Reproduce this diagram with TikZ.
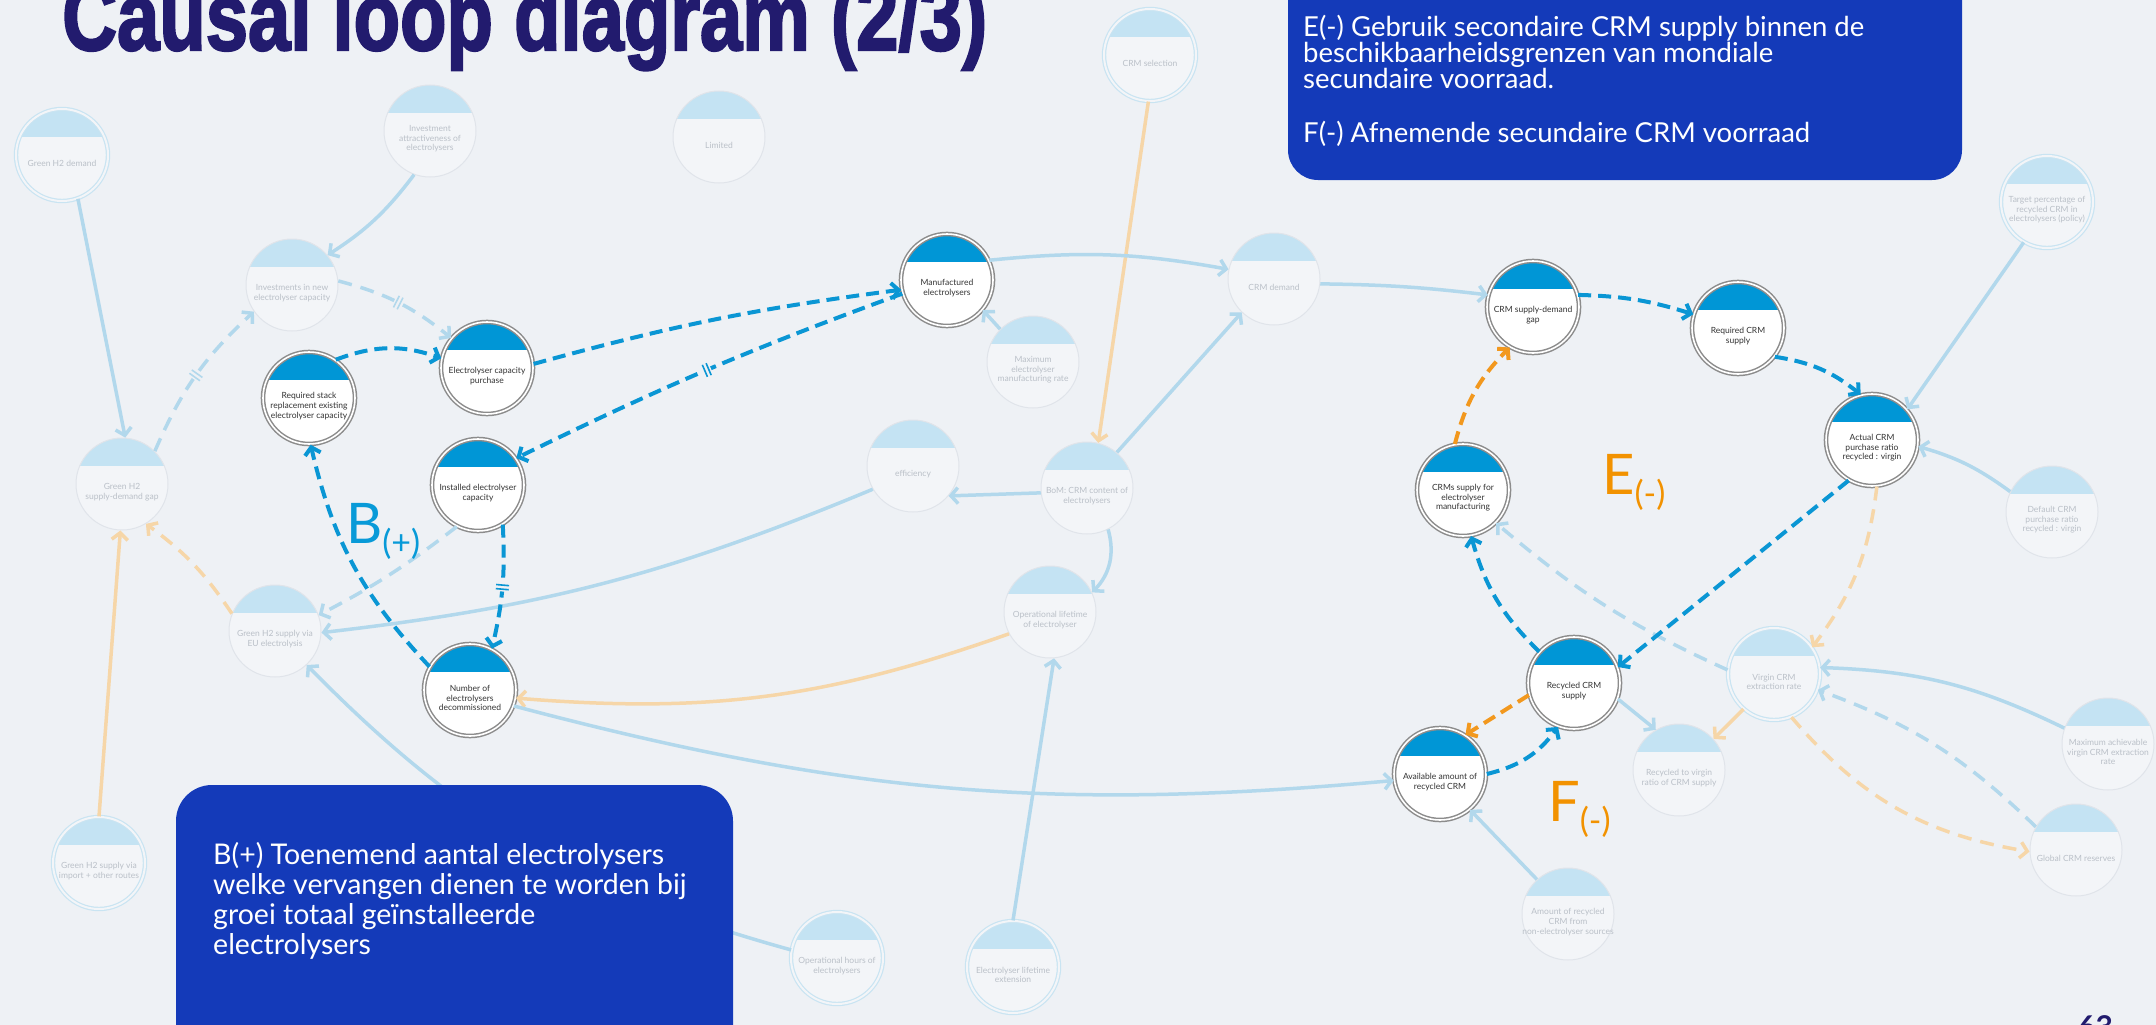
\documentclass[tikz,border=0pt]{standalone}
\usepackage{graphicx}
\usepackage{fontspec}
\setmainfont{Lato}
\newfontfamily\titlefont[FakeBold=2.5]{Liberation Sans Bold}
\usetikzlibrary{arrows.meta}

\definecolor{bgcol}{RGB}{238,241,245}
\definecolor{capblue}{RGB}{0,150,214}
\definecolor{linkblue}{RGB}{10,150,212}
\definecolor{linkorange}{RGB}{242,152,30}
\definecolor{paleblue}{RGB}{178,216,236}
\definecolor{paleorange}{RGB}{246,214,168}
\definecolor{palecap}{RGB}{196,227,243}
\definecolor{palefill}{RGB}{243,245,248}
\definecolor{paleedge}{RGB}{224,228,234}
\definecolor{paletext}{RGB}{186,192,200}
\definecolor{boxblue}{RGB}{20,58,185}
\definecolor{titlenavy}{RGB}{34,27,110}
\definecolor{loopblue}{RGB}{8,154,216}
\definecolor{looporange}{RGB}{242,146,0}

\newcommand{\delaymark}{\rule{1.6pt}{13pt}\hspace{2.5pt}\rule{1.6pt}{13pt}}

\tikzset{
  >={Straight Barb[length=7pt,width=16pt]},
  act/.style={circle, minimum size=92pt, inner sep=0pt, fill=white,
    draw=black!45, line width=1.5pt, double=white, double distance=1.6pt,
    path picture={\fill[capblue] (path picture bounding box.north west)
      rectangle ([yshift=-28pt]path picture bounding box.north east);}},
  pale/.style={circle, minimum size=92pt, inner sep=0pt, fill=palefill,
    draw=paleedge, line width=1pt,
    path picture={\fill[palecap] (path picture bounding box.north west)
      rectangle ([yshift=-28pt]path picture bounding box.north east);}},
  palering/.style={pale, draw=paleblue!70, double=palefill, double distance=2pt, line width=1.2pt},
  acttxt/.style={align=center, inner sep=0pt, yshift=-8pt, text=black!80,
    font=\fontsize{8.5}{9.6}\selectfont},
  paletxt/.style={acttxt, text=paletext},
  aline/.style={linkblue, line width=4pt, dash pattern=on 13pt off 7pt, ->},
  aorange/.style={aline, linkorange},
  pline/.style={paleblue, line width=3.5pt, ->},
  pdash/.style={pline, dash pattern=on 14pt off 9pt},
  oline/.style={paleorange, line width=3.5pt, ->},
  odash/.style={oline, dash pattern=on 14pt off 9pt},
  delay/.style={sloped, inner sep=1.5pt, fill=bgcol, text=linkblue},
  paledelay/.style={delay, text=paleblue},
  boxtxt/.style={align=left, inner sep=0pt, text=white}
}

\begin{document}
\begin{tikzpicture}[x=1pt,y=1pt]
\useasboundingbox (0,0) rectangle (2156,-1025);
\clip (0,0) rectangle (2156,-1025);
\fill[bgcol] (0,0) rectangle (2156,-1025);

% pale variables
\node[palering] (gdemand) at (62,-155) {};
\node[pale] (attract) at (430,-131) {};
\node[pale] (limited) at (719,-137) {};
\node[pale] (newcap) at (292,-285) {};
\node[palering] (crmsel) at (1150,-55) {};
\node[pale] (maxmanuf) at (1033,-362) {};
\node[pale] (crmdemand) at (1274,-279) {};
\node[pale] (efficiency) at (913,-466) {};
\node[pale] (bom) at (1087,-488) {};
\node[pale] (h2gap) at (122,-484) {};
\node[pale] (h2eu) at (275,-631) {};
\node[pale] (oplife) at (1050,-612) {};
\node[palering] (h2import) at (99,-863) {};
\node[palering] (ophours) at (837,-958) {};
\node[palering] (lifeext) at (1013,-967) {};
\node[palering] (target) at (2047,-202) {};
\node[pale] (default) at (2052,-512) {};
\node[palering] (virgin) at (1774,-674) {};
\node[pale] (rec2virgin) at (1679,-770) {};
\node[pale] (maxvirgin) at (2108,-744) {};
\node[pale] (reserves) at (2076,-850) {};
\node[pale] (nonelec) at (1568,-914) {};

\node[paletxt] (gdemand-t) at (gdemand) {Green H2 demand};
\node[paletxt] (attract-t) at (attract) {Investment\\attractiveness of\\electrolysers};
\node[paletxt] (limited-t) at (limited) {Limited};
\node[paletxt] (newcap-t) at (newcap) {Investments in new\\electrolyser capacity};
\node[paletxt] (crmsel-t) at (crmsel) {CRM selection};
\node[paletxt] (maxmanuf-t) at (maxmanuf) {Maximum\\electrolyser\\manufacturing rate};
\node[paletxt] (crmdemand-t) at (crmdemand) {CRM demand};
\node[paletxt] (efficiency-t) at (efficiency) {efficiency};
\node[paletxt] (bom-t) at (bom) {BoM: CRM content of\\electrolysers};
\node[paletxt] (h2gap-t) at (h2gap) {Green H2\\supply-demand gap};
\node[paletxt] (h2eu-t) at (h2eu) {Green H2 supply via\\EU electrolysis};
\node[paletxt] (oplife-t) at (oplife) {Operational lifetime\\of electrolyser};
\node[paletxt] (h2import-t) at (h2import) {Green H2 supply via\\import + other routes};
\node[paletxt] (ophours-t) at (ophours) {Operational hours of\\electrolysers};
\node[paletxt] (lifeext-t) at (lifeext) {Electrolyser lifetime\\extension};
\node[paletxt] (target-t) at (target) {Target percentage of\\recycled CRM in\\electrolysers (policy)};
\node[paletxt] (default-t) at (default) {Default CRM\\purchase ratio\\recycled : virgin};
\node[paletxt] (virgin-t) at (virgin) {Virgin CRM\\extraction rate};
\node[paletxt] (rec2virgin-t) at (rec2virgin) {Recycled to virgin\\ratio of CRM supply};
\node[paletxt] (maxvirgin-t) at (maxvirgin) {Maximum achievable\\virgin CRM extraction\\rate};
\node[paletxt] (reserves-t) at (reserves) {Global CRM reserves};
\node[paletxt] (nonelec-t) at (nonelec) {Amount of recycled\\CRM from\\non-electrolyser sources};

% active variables
\node[act] (reqstack) at (309,-398) {};
\node[act] (purchase) at (487,-368) {};
\node[act] (installed) at (478,-485) {};
\node[act] (decomm) at (470,-690) {};
\node[act] (manuf) at (947,-280) {};
\node[act] (gap) at (1533,-307) {};
\node[act] (reqcrm) at (1738,-328) {};
\node[act] (actual) at (1872,-440) {};
\node[act] (crmmanuf) at (1463,-490) {};
\node[act] (recycled) at (1574,-683) {};
\node[act] (available) at (1440,-774) {};

\node[acttxt] (reqstack-t) at (reqstack) {Required stack\\replacement existing\\electrolyser capacity};
\node[acttxt] (purchase-t) at (purchase) {Electrolyser capacity\\purchase};
\node[acttxt] (installed-t) at (installed) {Installed electrolyser\\capacity};
\node[acttxt] (decomm-t) at (decomm) {Number of\\electrolysers\\decommissioned};
\node[acttxt] (manuf-t) at (manuf) {Manufactured\\electrolysers};
\node[acttxt] (gap-t) at (gap) {CRM supply-demand\\gap};
\node[acttxt] (reqcrm-t) at (reqcrm) {Required CRM\\supply};
\node[acttxt] (actual-t) at (actual) {Actual CRM\\purchase ratio\\recycled : virgin};
\node[acttxt] (crmmanuf-t) at (crmmanuf) {CRMs supply for\\electrolyser\\manufacturing};
\node[acttxt] (recycled-t) at (recycled) {Recycled CRM\\supply};
\node[acttxt] (available-t) at (available) {Available amount of\\recycled CRM};

% pale links
\draw[pline] (gdemand.-70) -- (h2gap.86);
\draw[pline] (attract.250) to[bend left=10] (newcap.40);
\draw[pdash] (newcap.5) to[bend left=12] node[paledelay]{\delaymark} (purchase.140);
\draw[pdash] (h2gap.45) to[bend left=12] node[paledelay]{\delaymark} (newcap.215);
\draw[pdash] (installed.243) to[bend left=5] (h2eu.20);
\draw[pline] (efficiency.210) to[bend left=8] (h2eu.-2);
\draw[pline] (bom.186) -- (efficiency.-40);
\draw[pline] (bom.50) -- (crmdemand.226);
\draw[oline] (crmsel.268) -- (bom.76);
\draw[pline] (manuf.25) to[bend left=8] (crmdemand.168);
\draw[pline] (maxmanuf.135) -- (manuf.-40);
\draw[pline] (crmdemand.-6) to[bend left=3] (gap.165);
\draw[pline] (bom.-63) to[bend left=30] (oplife.25);
\draw[oline] (oplife.208) to[bend left=12] (decomm.-10);
\draw[pline] (decomm.-20) to[bend right=10] (available.188);
\draw[oline] (h2import.90) -- (h2gap.268);
\draw[odash] (h2eu.158) to[bend right=10] (h2gap.-59);
\draw[pline] (ophours.170) to[bend left=15] (h2eu.-47);
\draw[pline] (lifeext.90) -- (oplife.-85);
\draw[pline] (target.240) -- (actual.41);
\draw[pline] (default.154) to[bend right=10] (actual.-8);
\draw[odash] (actual.-84) to[bend left=15] (virgin.35);
\draw[pdash] (virgin.175) to[bend left=8] (crmmanuf.-45);
\draw[pline] (recycled.-20) -- (rec2virgin.120);
\draw[oline] (virgin.229) -- (rec2virgin.42);
\draw[pline] (maxvirgin.160) to[bend right=12] (virgin.8);
\draw[pdash] (reserves.150) to[bend right=12] (virgin.-20);
\draw[odash] (virgin.-68) to[bend right=20] (reserves.182);
\draw[pline] (nonelec.132) -- (available.-50);

% loop B
\draw[aline] (reqstack.55) to[bend left=20] (purchase.168);
\draw[aline] (purchase.5) to[bend left=4] (manuf.192);
\draw[aline] (manuf.197) to[bend right=3] node[delay]{\delaymark} (installed.35);
\draw[aline] (installed.-58) to[bend left=8] node[delay]{\delaymark} (decomm.62);
\draw[aline] (decomm.150) to[bend left=15] (reqstack.-88);

% loops E and F
\draw[aline] (gap.15) to[bend left=8] (reqcrm.163);
\draw[aline] (reqcrm.-38) to[bend left=15] (actual.104);
\draw[aline] (actual.240) -- (recycled.20);
\draw[aline] (recycled.138) to[bend left=15] (crmmanuf.-80);
\draw[aorange] (crmmanuf.100) to[bend left=15] (gap.240);
\draw[aorange] (recycled.195) -- (available.57);
\draw[aline] (available.0) to[bend right=20] (recycled.250);

% loop names
\node[anchor=base west, inner sep=0pt, text=loopblue, font=\fontsize{56}{56}\selectfont] (bname) at (346,-543) {B\raisebox{-11pt}{\fontsize{34}{34}\selectfont(+)}};
\node[anchor=base west, inner sep=0pt, text=looporange, font=\fontsize{56}{56}\selectfont] (ename) at (1602,-494) {E\raisebox{-11pt}{\fontsize{34}{34}\selectfont(-)}};
\node[anchor=base west, inner sep=0pt, text=looporange, font=\fontsize{56}{56}\selectfont] (fname) at (1548,-821) {F\raisebox{-11pt}{\fontsize{34}{34}\selectfont(-)}};

% text boxes
\fill[boxblue, rounded corners=30pt] (1288,40) rectangle (1962,-180);
\node[boxtxt, anchor=north west, font=\fontsize{27.5}{24.5}\selectfont] (eftext) at (1303,-15)
  {E(-) Gebruik secondaire CRM supply binnen de\\beschikbaarheidsgrenzen van mondiale\\secundaire voorraad.\\[29pt]F(-) Afnemende secundaire CRM voorraad};
\fill[boxblue, rounded corners=36pt] (176,-785) rectangle (733,-1070);
\node[boxtxt, anchor=north west, font=\fontsize{28.5}{30}\selectfont] (btext) at (213,-842)
  {B(+) Toenemend aantal electrolysers\\welke vervangen dienen te worden bij\\groei totaal geïnstalleerde\\electrolysers};

% title and page number
\node[anchor=base west, inner sep=0pt, text=titlenavy] (title) at (62,-50)
  {\resizebox{925pt}{70pt}{\titlefont Causal loop diagram (2/3)}};
\node[anchor=north west, inner sep=0pt, text=titlenavy, font=\bfseries\fontsize{30}{30}\selectfont] (pagenr) at (2078,-1015) {63};
\end{tikzpicture}
\end{document}
